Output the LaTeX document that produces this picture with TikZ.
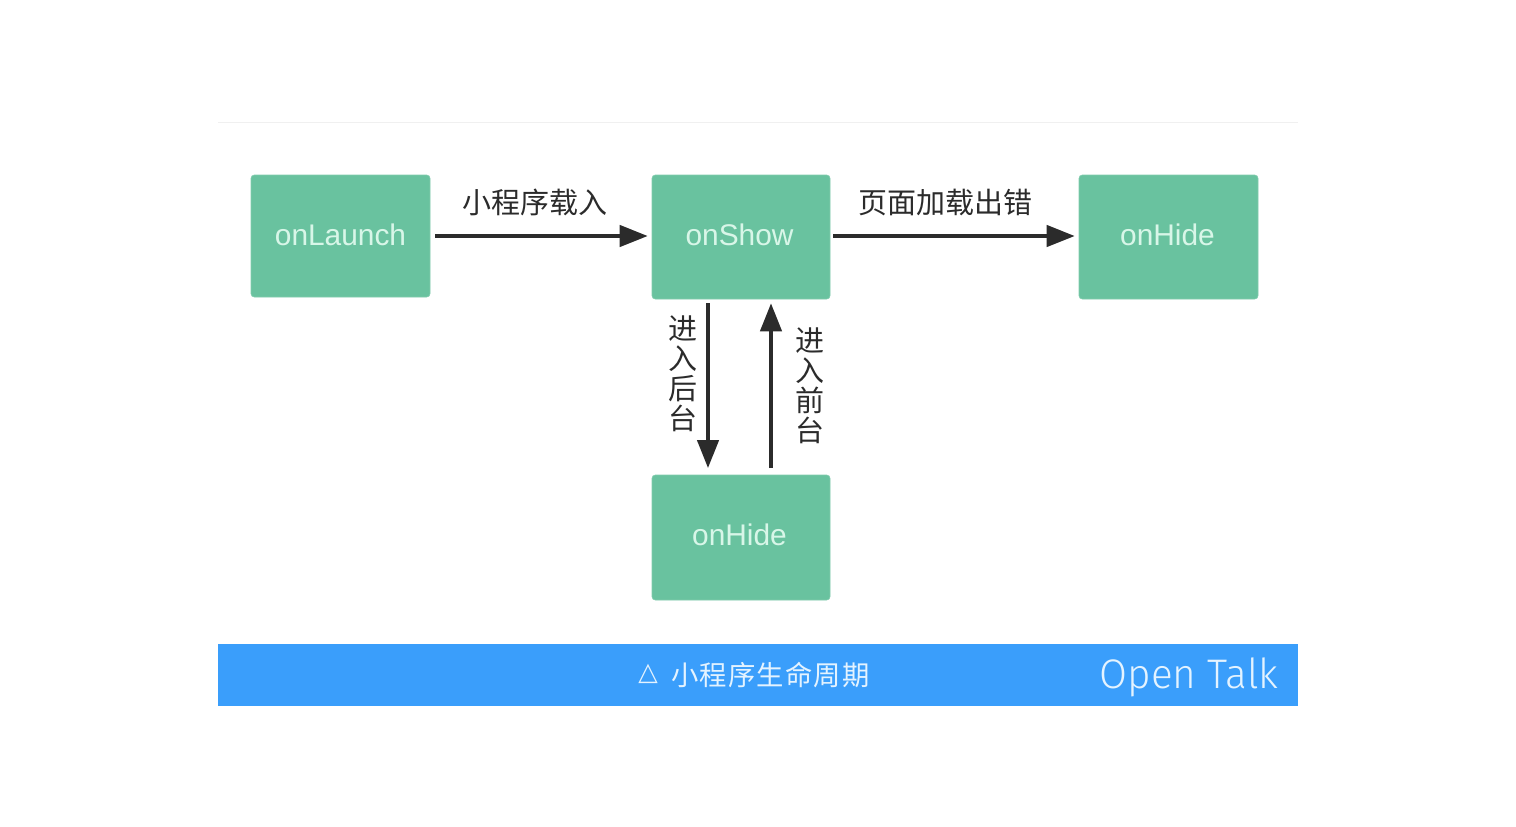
\documentclass[tikz,border=0pt]{standalone}
\usepackage{fontspec}
\setmainfont{Liberation Sans}
\newfontfamily\cjk{Noto Sans CJK SC}
\newfontfamily\sym{DejaVu Sans}
\newfontfamily\otk{Fira Sans Light}
\usetikzlibrary{arrows.meta}
\definecolor{boxgreen}{HTML}{69C29F}
\definecolor{boxtext}{HTML}{D8F6E8}
\definecolor{barblue}{HTML}{3A9EFB}
\definecolor{ink}{HTML}{2B2B2B}
\definecolor{captext}{HTML}{E4F3FF}
\tikzset{
  x=0.75pt,y=-0.75pt,
  lifebox/.style={fill=boxgreen,draw=boxgreen!85!white,line width=.5pt,rounded corners=2.5pt,inner sep=0pt,anchor=center},
  boxlabel/.style={text=boxtext,font=\fontsize{22.4}{26}\selectfont,inner sep=0pt},
  flow/.style={draw=ink,line width=2.6pt,-{Triangle[length=21pt,width=16pt]}},
  lab/.style={text=ink,font=\cjk\fontsize{21.75}{22}\selectfont,inner sep=0pt},
  vlab/.style={text=ink,font=\cjk\fontsize{21.75}{22.5}\selectfont,inner sep=0pt,align=center},
}
\begin{document}
\begin{tikzpicture}
\useasboundingbox (0,0) rectangle (1516,826);
\draw[draw=black!6,line width=.6pt] (218,122) -- (1298,122);
\node[lifebox,minimum width=134.25pt,minimum height=91.5pt] (launch) at (340.5,236) {};
\node[lifebox,minimum width=133.5pt,minimum height=93pt] (show) at (741,237) {};
\node[lifebox,minimum width=134.25pt,minimum height=93pt] (hideR) at (1168.5,237) {};
\node[lifebox,minimum width=133.5pt,minimum height=93.75pt] (hideB) at (741,537.5) {};
\node[boxlabel] (t1) at (340.5,235) {onLaunch};
\node[boxlabel] (t2) at (739.5,235) {onShow};
\node[boxlabel] (t3) at (1167.5,235) {onHide};
\node[boxlabel] (t4) at (739.5,535) {onHide};
\draw[flow] ([xshift=3.75pt]launch.east) -- ([xshift=-3pt]launch.east -| show.west);
\draw[flow] ([xshift=2pt,yshift=.75pt]show.east) -- ([xshift=-3pt,yshift=.75pt]show.east -| hideR.west);
\draw[flow] ([xshift=-24.75pt,yshift=-3pt]show.south) -- ([xshift=-24.75pt,yshift=5pt]hideB.north);
\draw[flow] ([xshift=22.5pt,yshift=5pt]hideB.north) -- ([xshift=22.5pt,yshift=-3pt]show.south);
\node[lab] (l1) at (534.5,202) {小程序载入};
\node[lab] (l2) at (945,202) {页面加载出错};
\node[vlab] (l3) at (683,373.5) {进\\入\\后\\台};
\node[vlab] (l4) at (809.5,386) {进\\入\\前\\台};
\fill[barblue] (218,644) rectangle (1298,706);
\node[inner sep=0pt,text=captext,font=\sym\fontsize{19}{20}\selectfont] (tri) at (648,674) {△};
\node[inner sep=0pt,text=captext,font=\cjk\fontsize{20.5}{22}\selectfont] (cap) at (770.5,675) {\addfontfeature{LetterSpace=4}小程序生命周期};
\node[inner sep=0pt,text=captext,font=\otk\fontsize{31}{32}\selectfont,xscale=.98] (brand) at (1189,677) {Open Talk};
\end{tikzpicture}
\end{document}
